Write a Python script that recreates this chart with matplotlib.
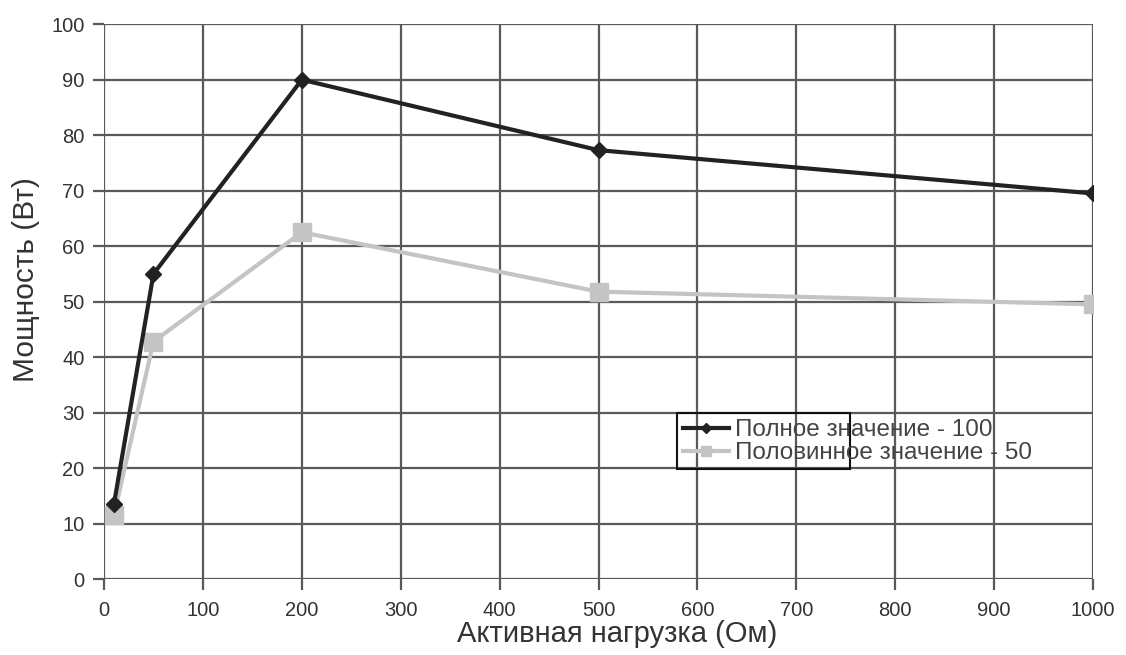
import matplotlib
matplotlib.use('Agg')
import matplotlib.pyplot as plt
from matplotlib.patches import Rectangle

plt.rcParams['font.family'] = ['Liberation Sans', 'DejaVu Sans']

# нагрузка, Ом
load = [10, 50, 200, 500, 1000]
full_power = [13.5, 55, 90, 77.3, 69.5]
half_power = [11.5, 42.8, 62.5, 51.8, 49.5]

fig = plt.figure(figsize=(11.26, 6.55), dpi=100)
ax = fig.add_axes([0.0924, 0.116, 0.8783, 0.847])

ax.plot(load, full_power, color='#222222', lw=3, marker='D', ms=8,
        label='Полное значение - 100', zorder=4)
ax.plot(load, half_power, color='#c4c4c4', lw=3, marker='s', ms=13,
        label='Половинное значение - 50', zorder=3)

ax.set_xlim(0, 1000)
ax.set_ylim(0, 100)
ax.set_xticks(range(0, 1001, 100))
ax.set_yticks(range(0, 101, 10))
ax.grid(True, color='#5a5a5a', lw=1.6)
for s in ax.spines.values():
    s.set_visible(False)
ax.tick_params(axis='both', labelsize=14.5, color='#5a5a5a', width=1.6, length=8,
               labelcolor='#333333')
ax.tick_params(axis='x', pad=8)
ax.tick_params(axis='y', pad=6)
ax.set_xlabel('Активная нагрузка (Ом)', fontsize=21, color='#333333')
ax.set_ylabel('Мощность (Вт)', fontsize=21.5, color='#333333')
ax.xaxis.set_label_coords(0.519, -0.074)
ax.yaxis.set_label_coords(-0.065, 0.54)

leg = ax.legend(loc='upper left', bbox_to_anchor=(0.585, 0.288), frameon=False,
                fontsize=17.5, handlelength=1.9, borderpad=0, borderaxespad=0,
                labelspacing=0.05, handletextpad=0.25, markerscale=0.6)
for t in leg.get_texts():
    t.set_color('#444444')
# рамка легенды (как в Excel - уже текста)
ax.add_patch(Rectangle((579.5, 19.8), 175, 10.1, fill=False,
                       edgecolor='#111111', lw=1.5, zorder=5))

fig.savefig('out.png', dpi=100)
